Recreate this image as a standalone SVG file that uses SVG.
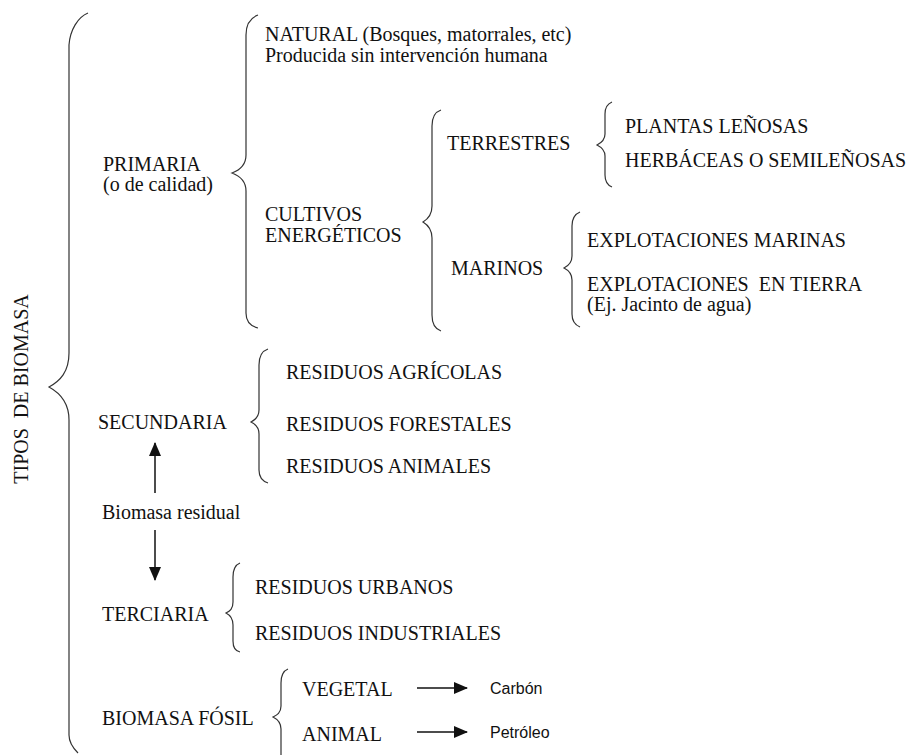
<svg xmlns="http://www.w3.org/2000/svg" width="913" height="755" viewBox="0 0 913 755">
  <defs>
    <style>
      .t { font-family: "Liberation Serif", "Times New Roman", serif; font-size: 20px; fill: #111; }
      .s { font-family: "Liberation Sans", Arial, sans-serif; font-size: 16px; fill: #111; }
      .brace { fill: none; stroke: #333; stroke-width: 1.2; }
      .arrow { fill: none; stroke: #111; stroke-width: 1.5; }
    </style>
    <marker id="head" markerWidth="14" markerHeight="12" refX="13" refY="6" orient="auto" markerUnits="userSpaceOnUse">
      <path d="M0,0 L14,6 L0,12 Z" fill="#111"/>
    </marker>
  </defs>
  <rect width="913" height="755" fill="#fff"/>

  <!-- main brace and vertical title -->
  <g id="tipos">
    <path class="brace" d="M88,13 C78,17 70,30 69,45 L69,353 C69,372 60,381 49,387 C60,393 69,402 69,420 L69,735 C69,742 73,748 78,753"/>
    <text class="t" transform="translate(28,389) rotate(-90)" text-anchor="middle" xml:space="preserve">TIPOS  DE BIOMASA</text>
  </g>

  <!-- primary biomass -->
  <g id="primaria">
    <text class="t" x="103" y="171">PRIMARIA</text>
    <text class="t" x="103" y="191">(o de calidad)</text>
    <path class="brace" d="M258,15 C250,18 246,25 246,35 L246,155 C246,165 240,170 232,173 C240,176 246,181 246,191 L246,313 C246,321 250,326 258,328"/>
  </g>
  <g id="natural">
    <text class="t" x="265" y="41">NATURAL (Bosques, matorrales, etc)</text>
    <text class="t" x="265" y="62">Producida sin intervención humana</text>
  </g>
  <g id="cultivos">
    <text class="t" x="265" y="221">CULTIVOS</text>
    <text class="t" x="265" y="242">ENERGÉTICOS</text>
    <path class="brace" d="M441,110 C435,112 432,118 432,126 L432,206 C432,215 428,219 423,222 C428,225 432,229 432,238 L432,315 C432,323 435,329 441,331"/>
  </g>
  <g id="terrestres">
    <text class="t" x="447" y="150">TERRESTRES</text>
    <path class="brace" d="M612,102 C607,104 605,108 605,114 L605,134 C605,140 601,143 597,145 C601,147 605,150 605,156 L605,175 C605,181 607,185 612,187"/>
    <text class="t" x="625" y="133">PLANTAS LEÑOSAS</text>
    <text class="t" x="625" y="167">HERBÁCEAS O SEMILEÑOSAS</text>
  </g>
  <g id="marinos">
    <text class="t" x="451" y="275">MARINOS</text>
    <path class="brace" d="M580,212 C575,214 572,219 572,226 L572,256 C572,263 568,266 564,268 C568,270 572,273 572,280 L572,314 C572,321 575,325 580,327"/>
    <text class="t" x="587" y="247">EXPLOTACIONES MARINAS</text>
    <text class="t" x="587" y="291" xml:space="preserve">EXPLOTACIONES  EN TIERRA</text>
    <text class="t" x="587" y="311">(Ej. Jacinto de agua)</text>
  </g>

  <!-- secondary biomass -->
  <g id="secundaria">
    <text class="t" x="98" y="429">SECUNDARIA</text>
    <path class="brace" d="M268,349 C262,351 259,357 259,365 L259,410 C259,417 255,420 251,422 C255,424 259,427 259,434 L259,470 C259,477 262,481 268,483"/>
    <text class="t" x="286" y="379">RESIDUOS AGRÍCOLAS</text>
    <text class="t" x="286" y="431">RESIDUOS FORESTALES</text>
    <text class="t" x="286" y="473">RESIDUOS ANIMALES</text>
  </g>
  <g id="residual">
    <text class="t" x="102" y="519">Biomasa residual</text>
  </g>

  <!-- tertiary biomass -->
  <g id="terciaria">
    <text class="t" x="102" y="621">TERCIARIA</text>
    <path class="brace" d="M240,563 C235,565 233,570 233,577 L233,602 C233,609 230,611 226,613 C230,615 233,618 233,625 L233,641 C233,648 235,651 240,652"/>
    <text class="t" x="255" y="594">RESIDUOS URBANOS</text>
    <text class="t" x="255" y="640">RESIDUOS INDUSTRIALES</text>
  </g>

  <!-- fossil biomass -->
  <g id="fosil">
    <text class="t" x="102" y="725">BIOMASA FÓSIL</text>
    <path class="brace" d="M288,669 C283,671 281,676 281,683 L281,706 C281,713 277,715 273,717 C277,719 281,722 281,729 L281,760"/>
    <text class="t" x="302" y="696">VEGETAL</text>
    <text class="t" x="302" y="741">ANIMAL</text>
  </g>
  <g id="carbon">
    <text class="s" x="490" y="694">Carbón</text>
  </g>
  <g id="petroleo">
    <text class="s" x="490" y="738">Petróleo</text>
  </g>

  <!-- connectors -->
  <g id="connectors">
    <line class="arrow" x1="155" y1="493" x2="155" y2="443" marker-end="url(#head)"/>
    <line class="arrow" x1="155" y1="530" x2="155" y2="580" marker-end="url(#head)"/>
    <line class="arrow" x1="417" y1="688" x2="467" y2="688" marker-end="url(#head)"/>
    <line class="arrow" x1="417" y1="732" x2="467" y2="732" marker-end="url(#head)"/>
  </g>
</svg>
